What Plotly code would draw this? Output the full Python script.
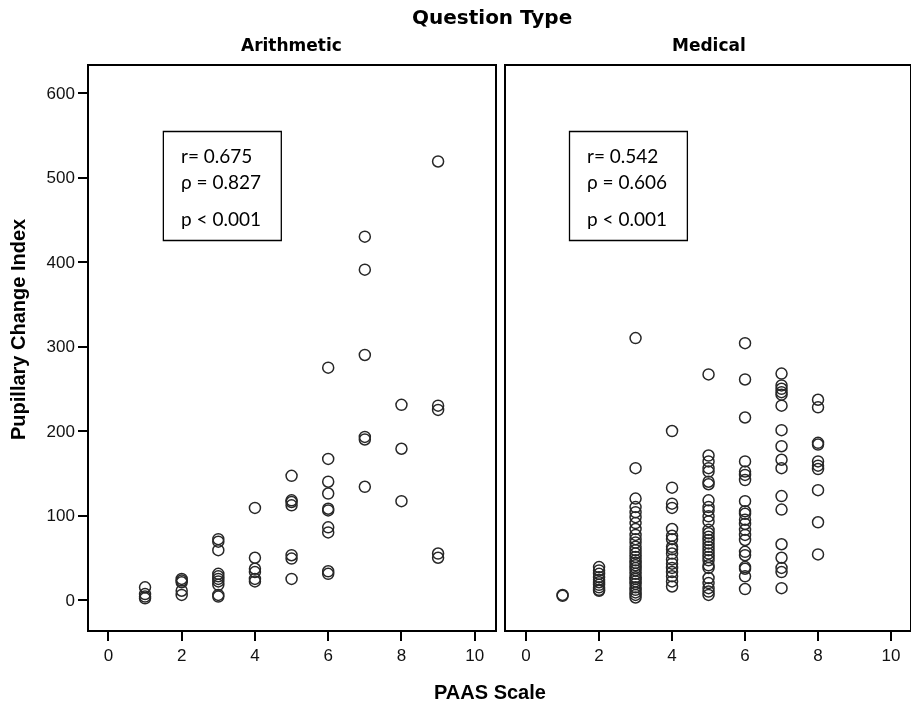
import plotly.graph_objects as go

# ---- data ----
arith_levels = [1, 2, 3, 4, 5, 6, 7, 8, 9]
arith_values = [
    [15, 7, 4, 2],
    [25, 23, 21, 11, 6],
    [72, 69, 59, 31, 28, 25, 22, 18, 6, 4],
    [109, 50, 37, 33, 25, 22],
    [147, 118, 116, 112, 53, 49, 25],
    [275, 167, 140, 126, 108, 106, 86, 80, 34, 31],
    [430, 391, 290, 193, 190, 134],
    [231, 179, 117],
    [519, 230, 225, 55, 50],
]
med_levels = [1, 2, 3, 4, 5, 6, 7, 8]
med_values = [
    [6, 5],
    [39, 35, 31, 27, 24, 21, 18, 15, 12, 11],
    [310, 156, 120, 110, 104, 98, 91, 84, 77, 72, 68, 63, 59, 55, 51, 47, 44, 41,
     38, 35, 31, 27, 25, 22, 19, 15, 12, 9, 6, 3],
    [200, 133, 114, 109, 84, 76, 72, 63, 60, 55, 48, 43, 38, 33, 28, 22, 16],
    [267, 171, 164, 156, 152, 140, 137, 118, 110, 106, 99, 93, 83, 79, 75, 71, 67,
     63, 59, 55, 51, 47, 41, 38, 26, 20, 14, 10, 6],
    [304, 261, 216, 164, 152, 148, 142, 117, 105, 102, 95, 90, 83, 77, 71, 57, 53,
     39, 37, 28, 13],
    [268, 254, 250, 246, 243, 230, 201, 182, 166, 156, 123, 107, 66, 50, 38, 33, 14],
    [237, 228, 186, 184, 164, 159, 155, 130, 92, 54],
]
panel_titles = ["Arithmetic", "Medical"]
stats_arith = ["r= 0.675", "ρ = 0.827", "p < 0.001"]
stats_med = ["r= 0.542", "ρ = 0.606", "p < 0.001"]
x_ticks = [0, 2, 4, 6, 8, 10]
y_ticks = [0, 100, 200, 300, 400, 500, 600]


def flatten(levels, values):
    xs, ys = [], []
    for lv, vals in zip(levels, values):
        for v in vals:
            xs.append(lv)
            ys.append(v)
    return xs, ys


ax, ay = flatten(arith_levels, arith_values)
mx, my = flatten(med_levels, med_values)

marker = dict(symbol="circle-open", size=11, color="black", line=dict(width=1.5, color="black"))

fig = go.Figure()
fig.add_trace(go.Scatter(x=ax, y=ay, mode="markers", marker=marker, xaxis="x", yaxis="y",
                         showlegend=False, opacity=0.85))
fig.add_trace(go.Scatter(x=mx, y=my, mode="markers", marker=marker, xaxis="x2", yaxis="y2",
                         showlegend=False, opacity=0.85))

W, H = 911, 707
xd1 = [89 / W, 494.5 / W]
xd2 = [506 / W, 910 / W]
yd = [1 - 630 / H, 1 - 66 / H]
tickfont = dict(family="Liberation Sans, Arial", size=17, color="#111")
common_x = dict(range=[-0.53, 10.54], tickvals=x_ticks, ticks="outside", ticklen=9, tickwidth=1.5,
                tickcolor="black", showline=True, linecolor="black", linewidth=1.5, mirror=True,
                showgrid=False, zeroline=False, tickfont=tickfont)

fig.update_layout(
    width=W, height=H,
    margin=dict(l=0, r=0, t=0, b=0),
    paper_bgcolor="white", plot_bgcolor="white",
    xaxis=dict(common_x, domain=xd1, anchor="y"),
    xaxis2=dict(common_x, domain=xd2, anchor="y2", range=[-0.55, 10.52]),
    yaxis=dict(domain=yd, range=[-35.5, 632], tickvals=y_ticks, ticks="outside", ticklen=9,
               tickwidth=1.5, tickcolor="black", showline=True, linecolor="black", linewidth=1.5,
               mirror=True, showgrid=False, zeroline=False, tickfont=tickfont, anchor="x"),
    yaxis2=dict(domain=yd, range=[-35.5, 632], showticklabels=False, ticks="", showline=True,
                linecolor="black", linewidth=1.5, mirror=True, showgrid=False, zeroline=False,
                anchor="x2"),
)

# stat boxes
fig.add_shape(type="rect", xref="x", yref="y", x0=1.50, x1=4.72, y0=425.5, y1=554.5,
              line=dict(color="black", width=1.3))
fig.add_shape(type="rect", xref="x2", yref="y2", x0=1.19, x1=4.42, y0=425.5, y1=554.5,
              line=dict(color="black", width=1.3))

statfont = dict(family="Lato, Open Sans", size=19, color="black")
line_y = [526, 495, 451]
for xr, yr, x0, texts in [("x", "y", 1.93, stats_arith), ("x2", "y2", 1.62, stats_med)]:
    for t, yy in zip(texts, line_y):
        fig.add_annotation(xref=xr, yref=yr, x=x0, y=yy, text=t, showarrow=False,
                           xanchor="left", yanchor="middle", font=statfont)

fig.add_annotation(xref="paper", yref="paper", x=492 / W, y=1 - 17 / H, text="<b>Question Type</b>",
                   showarrow=False, xanchor="center", yanchor="middle",
                   font=dict(family="DejaVu Sans", size=20, color="black"))
for xc, ttl in zip([291, 709], panel_titles):
    fig.add_annotation(xref="paper", yref="paper", x=xc / W, y=1 - 45 / H, text="<b>" + ttl + "</b>",
                       showarrow=False, xanchor="center", yanchor="middle",
                       font=dict(family="DejaVu Sans", size=17, color="black"))
axfont = dict(family="Liberation Sans, Arial", size=20, color="black")
fig.add_annotation(xref="paper", yref="paper", x=490 / W, y=1 - 692 / H, text="<b>PAAS Scale</b>",
                   showarrow=False, xanchor="center", yanchor="middle", font=axfont)
fig.add_annotation(xref="paper", yref="paper", x=18 / W, y=1 - 330 / H, text="<b>Pupillary Change Index</b>",
                   showarrow=False, xanchor="center", yanchor="middle", textangle=-90, font=axfont)

fig.write_html("out.html", config={"displayModeBar": False},
               post_script="document.body.style.margin='0px';document.body.style.overflow='hidden';")
